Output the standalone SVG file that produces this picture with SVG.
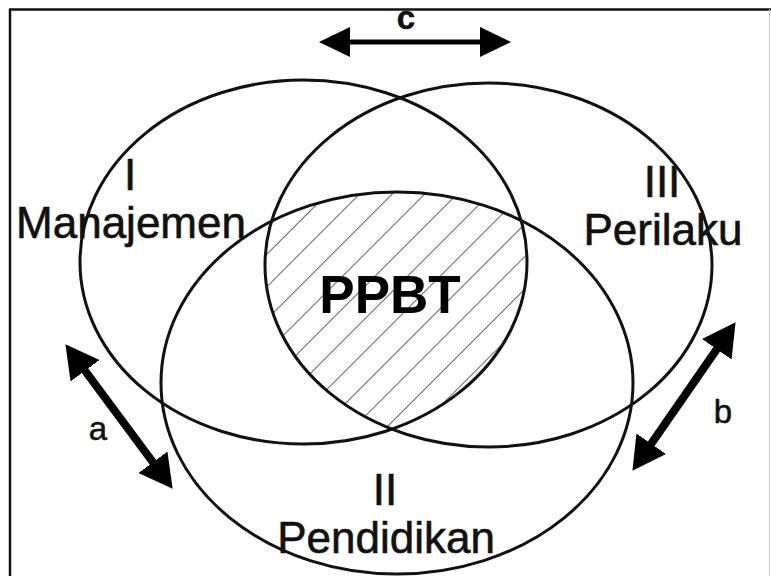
<svg xmlns="http://www.w3.org/2000/svg" width="771" height="576" viewBox="0 0 771 576">
  <style>
    .ring { fill: none; stroke: #111; stroke-width: 3; }
    .lbl { font-family: "Liberation Sans", Arial, sans-serif; font-size: 44px; fill: #111; stroke: #111; stroke-width: 0.6; text-anchor: middle; }
    .small { font-family: "Liberation Sans", Arial, sans-serif; font-size: 33px; fill: #111; stroke: #111; stroke-width: 0.5; text-anchor: middle; }
    .shaft { stroke: #000; fill: none; }
  </style>
  <defs>
    <pattern id="hatch" patternUnits="userSpaceOnUse" width="23" height="23" patternTransform="rotate(45)">
      <line x1="0" y1="0" x2="0" y2="23" stroke="#222" stroke-width="1.4"/>
    </pattern>
    <clipPath id="clipI"><ellipse cx="303.5" cy="262" rx="223.5" ry="182"/></clipPath>
    <clipPath id="clipIII"><ellipse cx="488.5" cy="265" rx="223.5" ry="182"/></clipPath>
    <clipPath id="clipII"><ellipse cx="397" cy="383" rx="236" ry="191"/></clipPath>
    <marker id="headBig" markerUnits="userSpaceOnUse" markerWidth="34" markerHeight="36" viewBox="0 0 34 36" refX="12" refY="18" orient="auto-start-reverse">
      <path d="M0,0 L33,18 L0,36 Z" fill="#000"/>
    </marker>
    <marker id="headC" markerUnits="userSpaceOnUse" markerWidth="31" markerHeight="30" viewBox="0 0 31 30" refX="10" refY="15" orient="auto-start-reverse">
      <path d="M0,0 L31,15 L0,30 Z" fill="#000"/>
    </marker>
  </defs>

  <rect width="771" height="576" fill="#fff"/>
  <g id="frame">
    <line x1="9" y1="9.5" x2="771" y2="9.5" stroke="#111" stroke-width="2.5"/>
    <line x1="10" y1="9" x2="10" y2="576" stroke="#111" stroke-width="2.5"/>
    <line x1="769.5" y1="9" x2="769.5" y2="576" stroke="#ccc" stroke-width="1"/>
  </g>

  <g id="hatched-area" clip-path="url(#clipI)">
    <g clip-path="url(#clipIII)">
      <rect x="200" y="150" width="400" height="320" fill="url(#hatch)" clip-path="url(#clipII)"/>
    </g>
  </g>

  <g id="node-manajemen">
    <ellipse class="ring" cx="303.5" cy="262" rx="223.5" ry="182"/>
    <text class="lbl" x="130" y="190">I</text>
    <text class="lbl" x="131" y="238">Manajemen</text>
  </g>
  <g id="node-perilaku">
    <ellipse class="ring" cx="488.5" cy="265" rx="223.5" ry="182"/>
    <text class="lbl" x="662" y="197">III</text>
    <text class="lbl" x="663" y="245">Perilaku</text>
  </g>
  <g id="node-pendidikan">
    <ellipse class="ring" cx="397" cy="383" rx="236" ry="191"/>
    <text class="lbl" x="385" y="505">II</text>
    <text class="lbl" x="386" y="553">Pendidikan</text>
  </g>
  <g id="node-ppbt">
    <text x="390" y="313" font-family="Liberation Sans, Arial, sans-serif" font-size="53" font-weight="bold" fill="#000" text-anchor="middle">PPBT</text>
  </g>

  <g id="connectors">
    <line class="shaft" x1="77.9" y1="361.1" x2="160.1" y2="471.9" stroke-width="8" marker-start="url(#headBig)" marker-end="url(#headBig)"/>
    <line class="shaft" x1="723.6" y1="339.4" x2="644.4" y2="453.6" stroke-width="8" marker-start="url(#headBig)" marker-end="url(#headBig)"/>
    <line class="shaft" x1="340" y1="42" x2="490" y2="42" stroke-width="5" marker-start="url(#headC)" marker-end="url(#headC)"/>
    <text class="small" x="98" y="440">a</text>
    <text class="small" x="723" y="423">b</text>
    <text class="small" x="406" y="29" font-size="24" font-weight="bold" stroke-width="0">c</text>
  </g>
</svg>
